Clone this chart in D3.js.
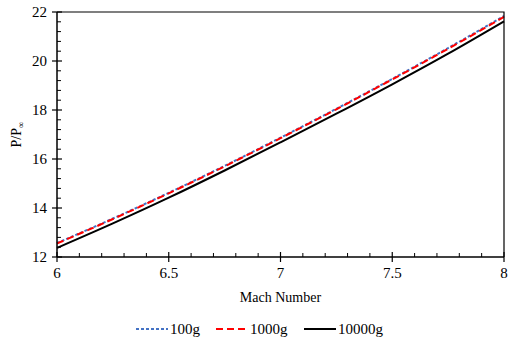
<!DOCTYPE html>
<html>
<head>
<meta charset="utf-8">
<script src="https://cdn.jsdelivr.net/npm/d3@7"></script>
<style>
  body { margin: 0; background: #fff; }
</style>
</head>
<body>
<svg id="chart" width="512" height="343" font-family="'Liberation Serif', 'DejaVu Serif', serif"></svg>
<script>
const mach = [6, 6.25, 6.5, 6.75, 7, 7.25, 7.5, 7.75, 8];
const p100g = [12.57, 13.57, 14.62, 15.72, 16.87, 18.05, 19.27, 20.53, 21.84];
const p1000g = [12.55, 13.55, 14.6, 15.7, 16.85, 18.03, 19.25, 20.5, 21.8];
const p10000g = [12.37, 13.37, 14.42, 15.53, 16.68, 17.85, 19.05, 20.3, 21.62];
const seriesNames = ['100g', '1000g', '10000g'];
const xTicks = [6, 6.5, 7, 7.5, 8];
const yTicks = [12, 14, 16, 18, 20, 22];

const svg = d3.select('#chart');
const margin = { left: 57, right: 8, top: 12, bottom: 86 };
const plotW = 512 - margin.left - margin.right;
const plotH = 343 - margin.top - margin.bottom;

const x = d3.scaleLinear().domain([6, 8]).range([margin.left, margin.left + plotW]);
const y = d3.scaleLinear().domain([12, 22]).range([margin.top + plotH, margin.top]);

let drawFrame = () => {
  svg.append('path')
     .attr('d', `M${x(6)},${y(22)}H${x(8)}V${y(12)}`)
     .attr('fill', 'none')
     .attr('stroke', '#000')
     .attr('stroke-width', 1.2);
};

let drawAxes = () => {
  // minor ticks point inward, majors cross the axis
  let xMinor = d3.range(6, 8.001, 0.1).filter(v => Math.abs(v * 2 - Math.round(v * 2)) > 1e-6);
  let xAxis = svg.append('g').attr('transform', `translate(0,${y(12)})`);
  xAxis.append('line').attr('x1', x(6)).attr('x2', x(8)).attr('stroke', '#000').attr('stroke-width', 1.5);
  xAxis.selectAll('.minor').data(xMinor).enter().append('line')
       .attr('x1', d => x(d)).attr('x2', d => x(d)).attr('y1', 0).attr('y2', -4)
       .attr('stroke', '#000').attr('stroke-width', 1);
  xAxis.selectAll('.major').data(xTicks).enter().append('line')
       .attr('x1', d => x(d)).attr('x2', d => x(d)).attr('y1', -5).attr('y2', 5)
       .attr('stroke', '#000').attr('stroke-width', 1.2);
  xAxis.selectAll('text').data(xTicks).enter().append('text')
       .attr('x', d => x(d)).attr('y', 21)
       .attr('text-anchor', 'middle').style('font-size', '15px')
       .text(d => d);

  let yMinor = d3.range(12, 22.001, 0.4).filter(v => Math.abs(v / 2 - Math.round(v / 2)) > 1e-6);
  let yAxis = svg.append('g').attr('transform', `translate(${x(6)},0)`);
  yAxis.append('line').attr('y1', y(12)).attr('y2', y(22)).attr('stroke', '#000').attr('stroke-width', 1.5);
  yAxis.selectAll('.minor').data(yMinor).enter().append('line')
       .attr('y1', d => y(d)).attr('y2', d => y(d)).attr('x1', 0).attr('x2', 4)
       .attr('stroke', '#000').attr('stroke-width', 1);
  yAxis.selectAll('.major').data(yTicks).enter().append('line')
       .attr('y1', d => y(d)).attr('y2', d => y(d)).attr('x1', -5).attr('x2', 5)
       .attr('stroke', '#000').attr('stroke-width', 1.2);
  yAxis.selectAll('text').data(yTicks).enter().append('text')
       .attr('x', -10).attr('y', d => y(d)).attr('dy', '0.35em')
       .attr('text-anchor', 'end').style('font-size', '15px')
       .text(d => d);

  svg.append('text')
     .attr('x', (x(6) + x(8)) / 2).attr('y', 302)
     .attr('text-anchor', 'middle').style('font-size', '14px')
     .text('Mach Number');

  let yLabel = svg.append('text')
     .attr('transform', `translate(21,${(y(12) + y(22)) / 2}) rotate(-90)`)
     .attr('text-anchor', 'middle').style('font-size', '14px');
  yLabel.append('tspan').text('P/P');
  yLabel.append('tspan').attr('dy', 3).style('font-size', '9px').text('\u221E');
};

const styles = [
  { color: '#4472c4', dash: '3,2' },
  { color: '#ff0000', dash: '7,4' },
  { color: '#000000', dash: null }
];

let drawLines = () => {
  let line = d3.line().x(d => x(d[0])).y(d => y(d[1])).curve(d3.curveMonotoneX);
  [p10000g, p100g, p1000g].forEach((vals) => {
    let idx = vals === p100g ? 0 : vals === p1000g ? 1 : 2;
    svg.append('path')
       .datum(d3.zip(mach, vals))
       .attr('d', line)
       .attr('fill', 'none')
       .attr('stroke', styles[idx].color)
       .attr('stroke-width', 2)
       .attr('stroke-dasharray', styles[idx].dash);
  });
};

let drawLegend = () => {
  let starts = [136, 216, 304];
  let rows = svg.selectAll('.legend').data(seriesNames).enter().append('g')
                .attr('class', 'legend')
                .attr('transform', (d, i) => `translate(${starts[i]},329)`);
  rows.append('line')
      .attr('x1', 0).attr('x2', 32)
      .attr('stroke', (d, i) => styles[i].color)
      .attr('stroke-width', 2)
      .attr('stroke-dasharray', (d, i) => styles[i].dash);
  rows.append('text')
      .attr('x', 34).attr('dy', '0.35em')
      .style('font-size', '15px')
      .text(d => d);
};

drawLines();
drawFrame();
drawAxes();
drawLegend();
</script>
</body>
</html>
